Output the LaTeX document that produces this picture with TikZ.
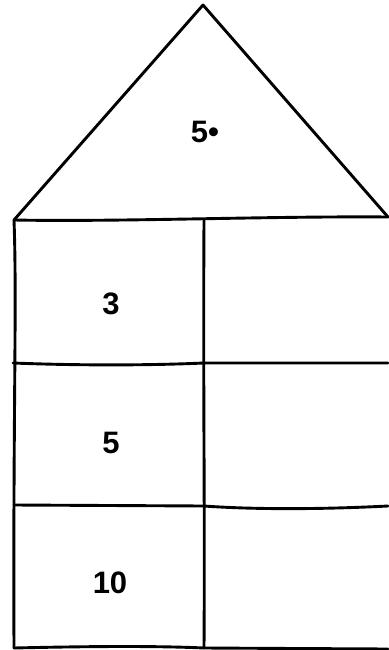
\documentclass[tikz,border=0pt]{standalone}
\usepackage{fontspec}
\setmainfont{Liberation Sans}
\begin{document}
\begin{tikzpicture}[x=1pt,y=-1pt,
  ln/.style={line width=2.9pt,line join=round,line cap=round},
  lbl/.style={font=\bfseries\fontsize{31}{36}\selectfont,inner sep=0pt}]
\useasboundingbox (0,0) rectangle (388,650);
\coordinate (apex) at (203,5);
\coordinate (rl) at (14,220);
\coordinate (rr) at (388,217);
\coordinate (mt) at (204,220);
\coordinate (mb) at (204,648);
\coordinate (bl) at (14,648);
\coordinate (br) at (388,649);
% roof
\draw[ln] (rl) -- (apex) -- (rr);
\draw[ln] (rl) .. controls (120,222) and (270,216) .. (rr);
% left wall
\draw[ln] (rl) .. controls (17,300) and (13,420) .. (bl);
% middle wall
\draw[ln] (mt) .. controls (203,400) and (205,500) .. (mb);
% shelves
\coordinate (a1) at (13,363);
\coordinate (a2) at (388,363);
\draw[ln] (a1) .. controls (90,366) and (160,365) .. (204,363) -- (a2);
\coordinate (b1) at (14,505);
\coordinate (b2) at (388,506);
\draw[ln] (b1) -- (204,506) .. controls (260,510) and (330,509) .. (b2);
% floor
\draw[ln] (bl) .. controls (100,646) and (160,646) .. (204,648) -- (br);
% labels
\node[lbl] (t0) at (205,132) {5•};
\node[lbl] (t1) at (111,304) {3};
\node[lbl] (t2) at (111,443) {5};
\node[lbl] (t3) at (110,583) {10};
\end{tikzpicture}
\end{document}
